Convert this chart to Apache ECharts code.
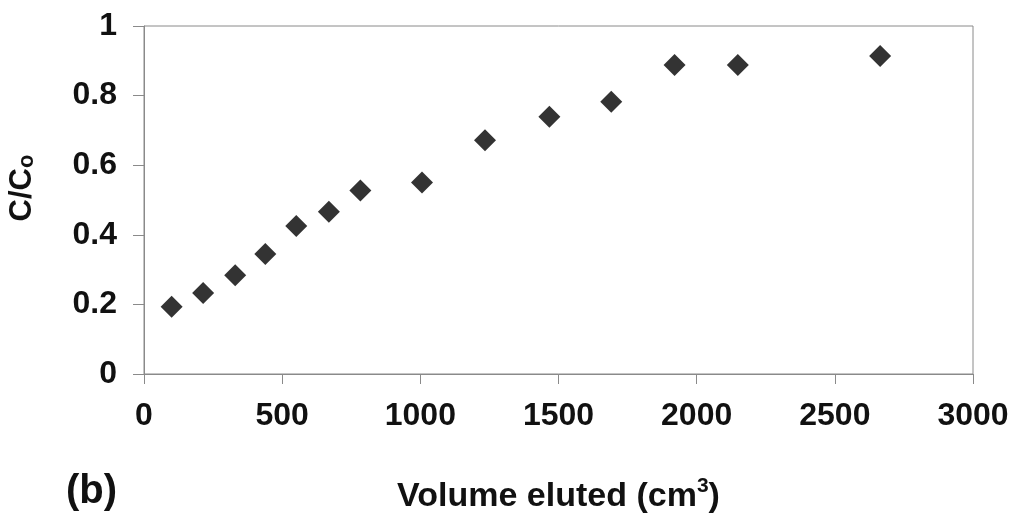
<!DOCTYPE html>
<html>
<head>
<meta charset="utf-8">
<script src="https://cdn.jsdelivr.net/npm/echarts@6/dist/echarts.min.js"></script>
<style>
  html, body { margin: 0; padding: 0; background: #fff; }
  #main { width: 1023px; height: 522px; }
</style>
</head>
<body>
<div id="main"></div>
<script>
// volume eluted (cm3) and C/Co
var volume = [100, 214, 330, 439, 551, 669, 783, 1006, 1234, 1467, 1691, 1920, 2149, 2664];
var ratio = [0.193, 0.233, 0.284, 0.345, 0.425, 0.466, 0.527, 0.550, 0.672, 0.739, 0.782, 0.888, 0.888, 0.914];

var points = volume.map(function (v, i) { return [v, ratio[i]]; });

var font = 'Liberation Sans, Arial, sans-serif';
var axisGray = '#8a8a8a';

var myChart = echarts.init(document.getElementById('main'));

var option = {
    backgroundColor: '#fff',
    animation: false,
    grid: {
        left: 144, right: 50, top: 26, bottom: 148,
        containLabel: false,
        outerBoundsMode: 'none',
        show: true,
        borderColor: axisGray,
        borderWidth: 1
    },
    xAxis: {
        type: 'value',
        min: 0, max: 3000, interval: 500,
        axisLine: { lineStyle: { color: axisGray } },
        axisTick: { show: true, inside: false, length: 10, lineStyle: { color: axisGray } },
        splitLine: { show: false },
        axisLabel: {
            color: '#111', fontFamily: font, fontWeight: 'bold', fontSize: 32, margin: 26,
            formatter: function (v) { return String(v); }
        },
        name: '{t|Volume eluted (cm}{s|3}{t|)}',
        nameLocation: 'middle',
        nameGap: 102,
        nameTextStyle: {
            rich: {
                t: { fontFamily: font, fontWeight: 'bold', fontSize: 34, color: '#111', lineHeight: 38, verticalAlign: 'bottom' },
                s: { fontFamily: font, fontWeight: 'bold', fontSize: 21, color: '#111', lineHeight: 38, verticalAlign: 'top', padding: [0, 0, 15, 0] }
            }
        }
    },
    yAxis: {
        type: 'value',
        min: 0, max: 1, interval: 0.2,
        axisLine: { show: true, lineStyle: { color: axisGray } },
        axisTick: { show: true, inside: false, length: 11, lineStyle: { color: axisGray } },
        splitLine: { show: false },
        axisLabel: {
            color: '#111', fontFamily: font, fontWeight: 'bold', fontSize: 32, margin: 27
        }
    },
    graphic: [{
        type: 'text',
        left: 66, top: 472,
        style: { text: '(b)', fill: '#111', font: 'bold 40px Liberation Sans, Arial, sans-serif' }
    }, {
        type: 'text',
        x: 21, y: 188,
        rotation: Math.PI / 2,
        style: {
            text: '{t|C/C}{s|o}',
            align: 'center',
            verticalAlign: 'middle',
            rich: {
                t: { fontFamily: font, fontWeight: 'bold', fontSize: 31, fill: '#111', lineHeight: 34, verticalAlign: 'bottom' },
                s: { fontFamily: font, fontWeight: 'bold', fontSize: 22, fill: '#111', lineHeight: 34, verticalAlign: 'bottom' }
            }
        }
    }],
    series: [{
        type: 'scatter',
        data: points,
        symbol: 'diamond',
        symbolSize: [22, 22],
        itemStyle: { color: '#000' }
    }]
};

option && myChart.setOption(option);
</script>
</body>
</html>
